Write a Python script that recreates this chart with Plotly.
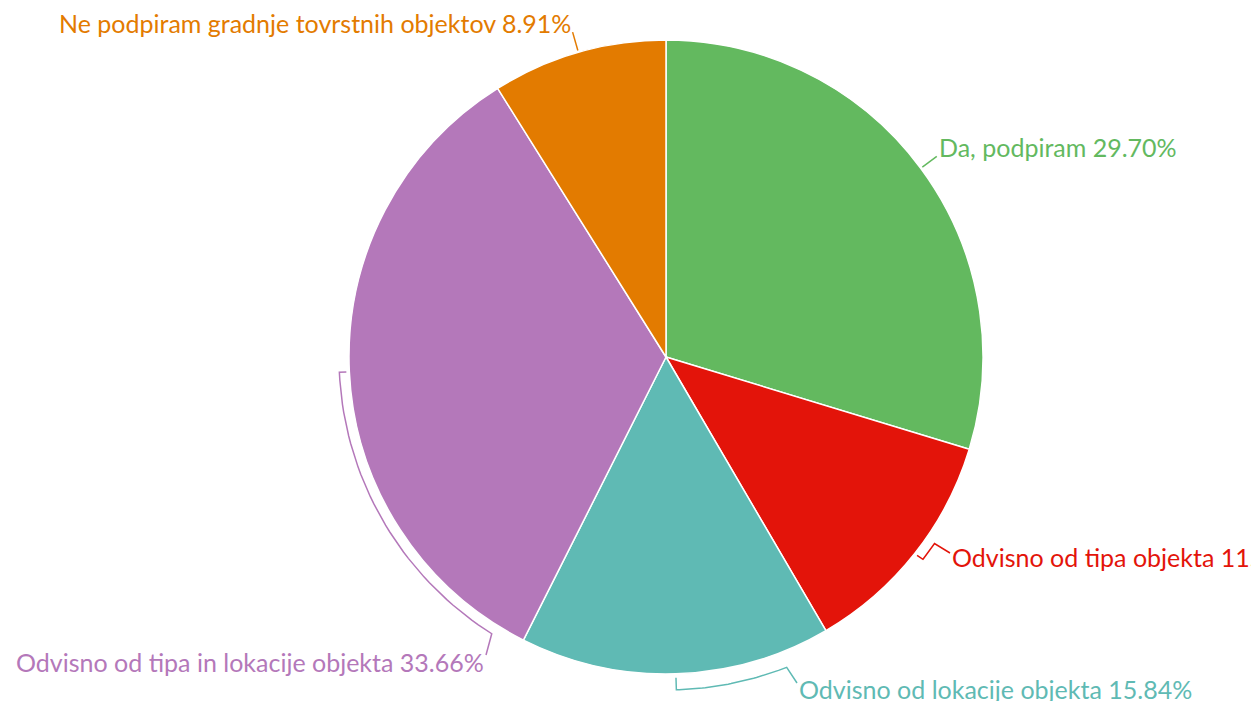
import numpy as np
import plotly.graph_objects as go

# ---- data ----
labels = ["Da, podpiram",
          "Odvisno od tipa objekta",
          "Odvisno od lokacije objekta",
          "Odvisno od tipa in lokacije objekta",
          "Ne podpiram gradnje tovrstnih objektov"]
values = [29.70, 11.88, 15.84, 33.66, 8.91]
colors = ["#63B95F", "#E3140A", "#5FBAB4", "#B478BA", "#E37B00"]

# ---- layout constants (pixels) ----
W, H = 1251, 701
CX, CY, R = 666, 357, 317
FONT = "Lato"
FSIZE = 25

# label placement: leader tick inner radius, arc radius, arc end angle (deg, clockwise from top),
# leader end point, text anchor point and side
label_layout = [
    dict(r_in=319, r_arc=337, end_deg=None, end=None, tx=939, ty=147, side="left"),
    dict(r_in=320, r_arc=327, end_deg=124.8, end=(950, 553), tx=952, ty=557, side="left"),
    dict(r_in=321, r_arc=333, end_deg=158.75, end=(797, 683), tx=799, ty=689, side="left"),
    dict(r_in=320, r_arc=327, end_deg=212.2, end=(486, 655), tx=484, ty=662, side="right"),
    dict(r_in=319, r_arc=338, end_deg=None, end=None, tx=571, ty=23, side="right"),
]

vals = np.array(values, dtype=float)
total = vals.sum()
starts = np.concatenate([[0], np.cumsum(vals)[:-1]])
mids = (starts + vals / 2) / total * 360.0


def pt(r, deg):
    a = np.radians(deg)
    return CX + r * np.sin(a), CY - r * np.cos(a)


fig = go.Figure()

fig.add_trace(go.Pie(
    labels=labels, values=values, sort=False, direction="clockwise", rotation=0,
    marker=dict(colors=colors, line=dict(color="white", width=1.5)),
    textinfo="none", hoverinfo="label+percent", showlegend=False,
    domain=dict(x=[(CX - R) / W, (CX + R) / W], y=[(H - CY - R) / H, (H - CY + R) / H]),
))

annotations = []
for i, (lab, v, col, ll) in enumerate(zip(labels, values, colors, label_layout)):
    m = mids[i]
    xs, ys = [], []
    x0, y0 = pt(ll["r_in"], m)
    xs.append(x0); ys.append(y0)
    end_deg = m if ll["end_deg"] is None else ll["end_deg"]
    for d in np.linspace(m, end_deg, 40):
        x, y = pt(ll["r_arc"], d)
        xs.append(x); ys.append(y)
    if ll["end"] is not None:
        xs.append(ll["end"][0]); ys.append(ll["end"][1])
    fig.add_trace(go.Scatter(x=xs, y=ys, mode="lines", line=dict(color=col, width=1.5),
                             hoverinfo="skip", showlegend=False, xaxis="x", yaxis="y"))
    annotations.append(dict(
        x=ll["tx"], y=ll["ty"], xref="x", yref="y", showarrow=False,
        text=f"{lab} {v:.2f}%", xanchor=ll["side"], yanchor="middle",
        font=dict(family=FONT, size=FSIZE, color=col), borderpad=0, borderwidth=0,
    ))

fig.update_layout(
    width=W, height=H, autosize=False,
    margin=dict(l=0, r=0, t=0, b=0, pad=0),
    paper_bgcolor="white", plot_bgcolor="rgba(0,0,0,0)",
    xaxis=dict(range=[0, W], visible=False, fixedrange=True, domain=[0, 1]),
    yaxis=dict(range=[H, 0], visible=False, fixedrange=True, domain=[0, 1]),
    annotations=annotations,
)

fig.write_html("out.html", config={"displayModeBar": False},
               post_script="document.body.style.margin='0';")
